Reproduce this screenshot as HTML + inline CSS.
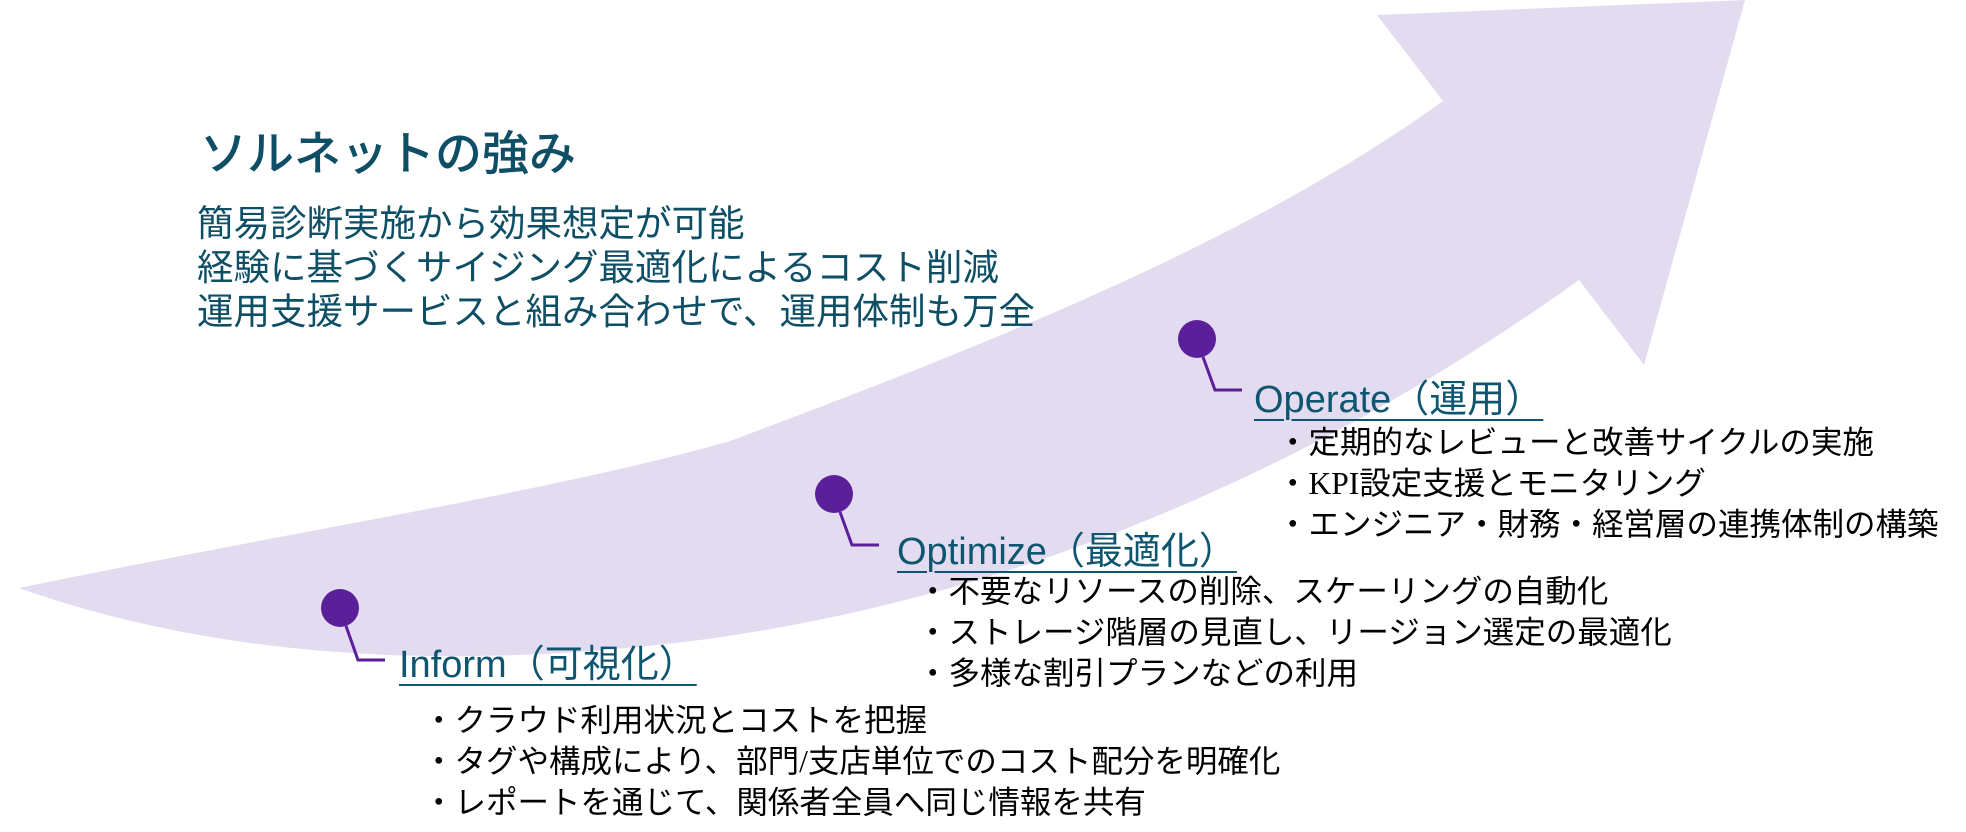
<!DOCTYPE html>
<html><head><meta charset="utf-8"><style>
html,body{margin:0;padding:0;background:#fff;}
body{width:1966px;height:832px;position:relative;overflow:hidden;font-family:"Liberation Sans","Noto Sans CJK JP",sans-serif;}
.t{position:absolute;white-space:nowrap;}
.title{left:200px;top:122px;font-size:47px;font-weight:500;color:#0e4f66;line-height:64px;}
.lead{left:197px;top:202px;font-size:36.5px;color:#0e4f66;line-height:44px;}
.h{font-size:38px;color:#0e5570;text-decoration:underline;text-decoration-thickness:2px;text-underline-offset:7px;line-height:50px;}
.b{font-family:"Liberation Serif","Noto Sans CJK JP",sans-serif;font-size:31.5px;color:#000;line-height:41px;}
</style></head><body>
<svg width="1966" height="832" style="position:absolute;left:0;top:0">
<path d="M19,588 C300,530 560,490 730,441 C1000,340 1250,240 1443,101 L1377,15 L1745,0 L1644,365 L1579,280 C1300,480 1000,600 700,640 C500,665 250,670 19,588 Z" fill="#e3dcf0"/>
<g fill="#5b1f9a"><circle cx="340" cy="608" r="19"/><circle cx="834" cy="494" r="19"/><circle cx="1197" cy="339" r="19"/></g>
<g stroke="#5b1f9a" stroke-width="3" fill="none">
<polyline points="346,626 358,660 385,660"/>
<polyline points="840,512 852,545 879,545"/>
<polyline points="1203,357 1215,390 1242,390"/>
</g>
</svg>
<div class="t title">ソルネットの強み</div>
<div class="t lead">簡易診断実施から効果想定が可能<br>経験に基づくサイジング最適化によるコスト削減<br>運用支援サービスと組み合わせで、運用体制も万全</div>
<div class="t h" style="left:399px;top:640px;">Inform（可視化）</div>
<div class="t h" style="left:897px;top:527px;">Optimize（最適化）</div>
<div class="t h" style="left:1254px;top:375px;">Operate（運用）</div>
<div class="t b" style="left:423px;top:700px;">・クラウド利用状況とコストを把握<br>・タグや構成により、部門/支店単位でのコスト配分を明確化<br>・レポートを通じて、関係者全員へ同じ情報を共有</div>
<div class="t b" style="left:917px;top:571px;">・不要なリソースの削除、スケーリングの自動化<br>・ストレージ階層の見直し、リージョン選定の最適化<br>・多様な割引プランなどの利用</div>
<div class="t b" style="left:1277px;top:422px;">・定期的なレビューと改善サイクルの実施<br>・KPI設定支援とモニタリング<br>・エンジニア・財務・経営層の連携体制の構築</div>
</body></html>
